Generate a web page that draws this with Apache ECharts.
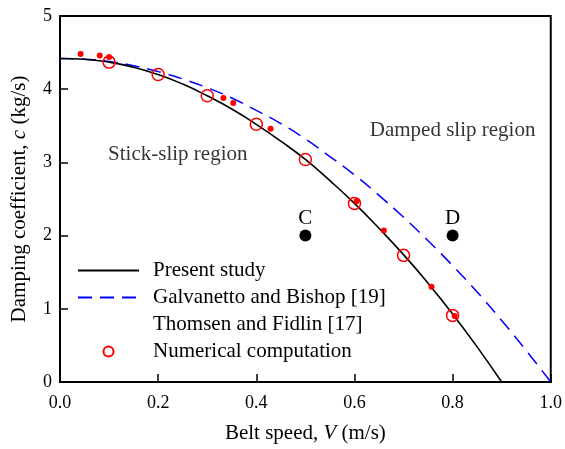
<!DOCTYPE html>
<html>
<head>
<meta charset="utf-8">
<script src="https://cdn.jsdelivr.net/npm/echarts@6/dist/echarts.min.js"></script>
<style>
html, body { margin: 0; padding: 0; background: #fff; }
#chart { width: 565px; height: 449px; }
</style>
</head>
<body>
<div id="chart"></div>
<script>
// belt speed samples for the two curves
var speedPresent = [0, 0.05, 0.1, 0.15, 0.2, 0.25, 0.3, 0.35, 0.4, 0.45, 0.5, 0.55, 0.6, 0.65, 0.7, 0.75, 0.8, 0.85, 0.9];
var dampPresent = [4.42, 4.41, 4.37, 4.30, 4.20, 4.07, 3.91, 3.73, 3.52, 3.29, 3.04, 2.75, 2.44, 2.10, 1.74, 1.35, 0.93, 0.48, 0];

var speedGalv = [0, 0.05, 0.1, 0.15, 0.2, 0.25, 0.3, 0.35, 0.4, 0.45, 0.5, 0.55, 0.6, 0.65, 0.7, 0.75, 0.8, 0.85, 0.9, 0.95, 1.0];
var dampGalv = [4.42, 4.41, 4.38, 4.32, 4.24, 4.14, 4.02, 3.88, 3.71, 3.53, 3.32, 3.08, 2.83, 2.55, 2.25, 1.93, 1.59, 1.23, 0.84, 0.43, 0];

// Thomsen and Fidlin (small red dots)
var speedThomsen = [0.042, 0.081, 0.100, 0.333, 0.353, 0.429, 0.604, 0.660, 0.757, 0.804];
var dampThomsen = [4.48, 4.46, 4.44, 3.88, 3.81, 3.46, 2.47, 2.07, 1.30, 0.90];

// numerical computation (open circles)
var speedNum = [0.1, 0.2, 0.3, 0.4, 0.5, 0.6, 0.7, 0.8];
var dampNum = [4.37, 4.20, 3.91, 3.52, 3.04, 2.44, 1.73, 0.91];

// points C and D
var pointNames = ['C', 'D'];
var pointSpeed = [0.5, 0.8];
var pointDamp = [2.0, 2.0];

// region labels
var regionNames = ['Stick-slip region', 'Damped slip region'];
var regionSpeed = [0.24, 0.80];
var regionDamp = [3.11, 3.43];

function pairs(xs, ys) {
    var out = [];
    for (var i = 0; i < xs.length; i++) {
        out.push([xs[i], ys[i]]);
    }
    return out;
}

var font = 'Liberation Serif';

var myChart = echarts.init(document.getElementById('chart'));
var option = {
    animation: false,
    backgroundColor: '#fff',
    grid: {
        left: 60, right: 13, top: 16, bottom: 64,
        show: true, borderColor: '#000', borderWidth: 2
    },
    legend: {
        orient: 'vertical',
        left: 72,
        top: 255,
        itemWidth: 61,
        itemHeight: 10,
        itemGap: 6,
        textStyle: {
            fontFamily: font, fontSize: 21, color: '#000',
            lineHeight: 21, padding: [0, 0, 0, 9]
        },
        data: [
            { name: 'Present study', itemStyle: { opacity: 0 } },
            { name: 'Galvanetto and Bishop [19]', itemStyle: { opacity: 0 } },
            { name: 'Thomsen and Fidlin [17]', itemStyle: { opacity: 0 } },
            { name: 'Numerical computation', icon: 'circle' }
        ]
    },
    xAxis: {
        type: 'value',
        min: 0, max: 1, interval: 0.2,
        name: '{a|Belt speed, }{i|V}{a| (m/s)}',
        nameLocation: 'middle',
        nameGap: 41,
        nameTextStyle: {
            rich: {
                a: { fontFamily: font, fontSize: 21, color: '#000' },
                i: { fontFamily: font, fontSize: 21, color: '#000', fontStyle: 'italic' }
            }
        },
        axisLine: { lineStyle: { color: '#000', width: 2 } },
        axisTick: { inside: true, length: 8, lineStyle: { color: '#000', width: 1.5 } },
        axisLabel: {
            fontFamily: font, fontSize: 18, color: '#000', margin: 12,
            formatter: function (v) { return v.toFixed(1); }
        },
        splitLine: { show: false }
    },
    yAxis: {
        type: 'value',
        min: 0, max: 5, interval: 1,
        name: '{a|Damping coefficient, }{i|c}{a| (kg/s)}',
        nameLocation: 'middle',
        nameGap: 30,
        nameTextStyle: {
            rich: {
                a: { fontFamily: font, fontSize: 21, color: '#000' },
                i: { fontFamily: font, fontSize: 21, color: '#000', fontStyle: 'italic' }
            }
        },
        axisLine: { lineStyle: { color: '#000', width: 2 } },
        axisTick: { inside: true, length: 8, lineStyle: { color: '#000', width: 1.5 } },
        axisLabel: { fontFamily: font, fontSize: 18, color: '#000', margin: 8 },
        splitLine: { show: false }
    },
    series: [
        {
            name: 'Present study',
            type: 'line',
            smooth: true,
            symbol: 'none',
            data: pairs(speedPresent, dampPresent),
            lineStyle: { color: '#000', width: 1.6 },
            itemStyle: { color: '#000' },
            z: 3
        },
        {
            name: 'Galvanetto and Bishop [19]',
            type: 'line',
            smooth: true,
            symbol: 'none',
            data: pairs(speedGalv, dampGalv),
            lineStyle: { color: '#0000ff', width: 1.5, type: [14, 8] },
            itemStyle: { color: '#0000ff' },
            z: 2
        },
        {
            name: 'Thomsen and Fidlin [17]',
            type: 'scatter',
            symbol: 'circle',
            symbolSize: 6,
            data: pairs(speedThomsen, dampThomsen),
            itemStyle: { color: '#ff0000', opacity: 1 },
            z: 4
        },
        {
            name: 'Numerical computation',
            type: 'scatter',
            symbol: 'circle',
            symbolSize: 12,
            data: pairs(speedNum, dampNum),
            itemStyle: { color: 'rgba(255,255,255,0)', borderColor: '#ff0000', borderWidth: 1.5, opacity: 1 },
            z: 5
        },
        {
            name: 'points',
            type: 'scatter',
            symbol: 'circle',
            symbolSize: 12,
            data: pairs(pointSpeed, pointDamp).map(function (p, i) {
                return { value: p, name: pointNames[i] };
            }),
            itemStyle: { color: '#000', opacity: 1 },
            label: {
                show: true, position: 'top', distance: 1,
                formatter: '{b}',
                fontFamily: font, fontSize: 21, color: '#000'
            }
        },
        {
            name: 'regions',
            type: 'scatter',
            symbolSize: 0,
            data: pairs(regionSpeed, regionDamp).map(function (p, i) {
                return { value: p, name: regionNames[i] };
            }),
            label: {
                show: true, position: 'inside',
                formatter: '{b}',
                fontFamily: font, fontSize: 21, color: '#000'
            },
            silent: true
        }
    ]
};
myChart.setOption(option);
</script>
</body>
</html>
